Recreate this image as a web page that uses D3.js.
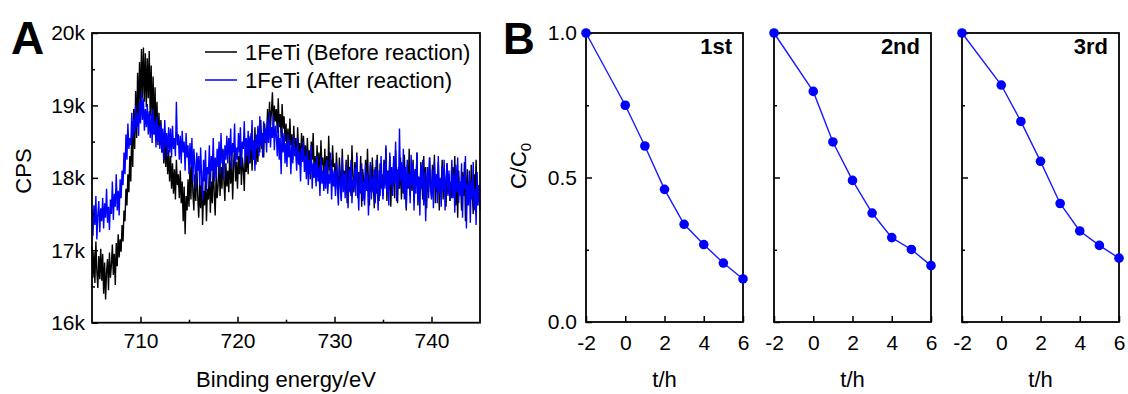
<!DOCTYPE html>
<html>
<head>
<meta charset="utf-8">
<script src="https://cdn.jsdelivr.net/npm/d3@7"></script>
<style>
  body { margin: 0; background: #fff; }
  svg { display: block; font-family: "Liberation Sans", Arial, sans-serif; }
  .tick line { stroke: #000; stroke-width: 1.5; }
</style>
</head>
<body>
<svg id="chart" width="1128" height="394"></svg>
<script>
// ---- panel A data: XPS Fe 2p spectra (CPS, in k), 705-745 eV, step 0.1 eV
const energyStart = 705;
const energyStep = 0.1;
const cpsBefore = [
  17.05,16.62,16.98,16.55,17.12,16.71,16.48,16.92,16.60,17.02,
  16.58,16.95,16.40,16.83,16.32,16.70,16.88,16.45,16.97,16.62,
  16.80,17.08,16.66,16.95,16.52,17.10,16.78,17.22,16.90,17.15,
  16.98,17.35,17.12,17.55,17.40,17.85,17.62,18.05,17.80,18.30,
  17.95,18.70,18.15,18.95,18.40,19.20,18.55,19.45,18.85,19.60,
  19.00,19.78,19.10,19.80,19.05,19.72,18.98,19.65,19.10,19.75,
  18.85,19.55,18.70,19.40,18.60,19.25,18.55,19.05,18.45,18.90,
  18.45,18.80,18.35,18.62,18.20,18.55,18.15,18.48,18.05,18.38,
  17.95,18.30,17.85,18.20,17.78,18.12,17.70,18.25,17.90,18.05,
  17.72,18.10,17.65,17.95,17.40,17.88,17.22,17.75,17.55,17.98,
  17.60,18.15,17.70,18.35,17.80,17.55,18.05,17.68,18.20,17.75,
  17.45,17.90,17.58,18.10,17.35,17.82,17.62,18.00,17.40,17.85,
  17.70,18.15,17.52,17.95,17.65,18.25,17.78,17.48,18.05,17.72,
  17.90,18.30,17.75,18.15,17.85,18.40,17.95,17.68,18.20,17.88,
  18.10,17.80,18.35,17.92,18.25,17.70,18.18,18.45,17.95,18.22,
  17.85,18.30,18.05,18.50,17.90,18.28,18.12,17.82,18.40,18.08,
  18.35,18.05,18.55,18.20,18.62,18.10,18.45,18.25,18.70,18.18,
  18.50,18.22,18.68,18.35,18.80,18.40,18.62,18.28,18.75,18.48,
  18.60,18.95,18.55,19.05,18.70,18.92,19.18,18.65,19.00,18.78,
  18.95,18.62,19.10,18.70,18.88,18.55,19.02,18.68,18.85,18.50,
  18.75,18.40,18.68,18.30,18.82,18.45,18.60,18.25,18.72,18.38,
  18.55,18.20,18.70,18.35,18.48,18.15,18.62,18.30,18.58,18.22,
  18.45,18.10,18.55,18.20,18.38,17.98,18.50,18.25,18.62,18.08,
  18.30,17.95,18.45,18.12,18.35,17.90,18.52,18.18,18.28,17.85,
  18.40,18.05,18.30,17.88,18.58,18.10,18.25,17.92,18.45,18.15,
  18.20,17.85,18.35,18.00,17.78,18.28,18.05,17.70,18.40,17.95,
  18.10,17.82,18.25,17.65,18.32,17.95,18.15,17.75,18.45,18.02,
  17.80,18.22,17.90,18.35,17.72,18.08,17.88,18.30,17.60,18.12,
  17.98,17.70,18.25,17.85,18.40,17.92,17.62,18.18,17.80,18.28,
  17.95,17.58,18.15,17.78,18.32,17.90,17.68,18.20,17.85,18.05,
  17.75,18.25,17.90,18.42,17.68,18.10,17.82,18.30,17.60,18.02,
  17.88,18.20,17.72,18.38,17.95,17.65,18.15,17.85,18.28,17.70,
  18.05,17.78,18.32,17.92,17.55,18.18,17.85,18.40,17.75,18.08,
  17.82,18.25,17.68,18.12,17.90,18.35,17.62,18.00,17.78,18.22,
  17.95,17.70,18.30,17.85,18.15,17.58,18.05,17.80,18.28,17.92,
  17.75,18.18,17.88,18.32,17.65,18.05,17.80,18.22,17.55,17.98,
  17.85,18.25,17.70,18.10,17.92,17.60,18.20,17.78,18.05,17.68,
  17.95,17.72,18.15,17.85,18.30,17.62,17.98,17.45,18.10,17.80,
  17.92,17.55,18.08,17.75,18.22,17.40,17.88,18.12,17.65,17.95,
  17.70,18.18,17.82,17.50,18.05,17.75,18.25,17.62,17.90,17.78,
  17.85
];
const cpsAfter = [
  17.55,17.20,17.62,17.35,17.75,17.15,17.48,17.68,17.25,17.58,
  17.40,17.72,17.30,17.65,17.45,17.85,17.38,17.60,17.28,17.70,
  17.50,17.95,17.42,17.78,17.60,18.05,17.55,17.82,17.48,17.98,
  17.72,18.10,17.90,18.35,18.05,18.60,18.25,18.75,18.40,18.55,
  18.45,18.90,18.55,18.80,18.62,19.00,18.70,18.88,18.58,19.05,
  18.75,19.18,18.80,19.10,18.65,18.95,18.70,19.02,18.60,18.92,
  18.55,18.88,18.48,18.95,18.60,18.78,18.42,18.85,18.50,18.72,
  18.40,18.75,18.35,18.68,18.25,18.80,18.45,18.62,18.30,18.70,
  18.35,18.68,18.28,18.72,18.40,18.55,18.30,19.05,18.45,18.60,
  18.25,18.58,18.20,18.65,18.35,18.50,18.10,18.62,18.28,18.45,
  18.05,18.48,18.15,18.55,17.95,18.40,18.20,17.85,18.35,18.10,
  18.30,17.90,18.42,18.00,17.70,18.25,17.95,18.38,17.82,18.15,
  18.05,18.45,17.88,18.30,18.10,18.55,17.95,18.28,18.00,18.40,
  18.15,18.50,18.05,18.62,18.20,18.38,17.98,18.45,18.25,18.58,
  18.20,18.55,18.30,18.68,18.12,18.48,18.35,18.75,18.18,18.42,
  18.25,18.62,18.35,18.70,18.15,18.50,18.40,18.78,18.22,18.55,
  18.30,18.65,18.20,18.58,18.38,18.80,18.25,18.52,18.10,18.60,
  18.40,18.72,18.30,18.85,18.45,18.62,18.28,18.78,18.50,18.68,
  18.35,18.80,18.48,18.90,18.42,18.70,18.55,18.85,18.38,18.72,
  18.60,18.30,18.75,18.25,18.55,18.05,18.68,18.35,18.62,18.20,
  18.48,18.15,18.60,18.28,18.52,18.05,18.45,18.20,18.58,18.30,
  18.40,18.10,18.55,18.18,18.35,17.95,18.42,18.22,18.50,18.08,
  18.30,17.98,18.38,17.90,18.25,18.05,18.45,17.85,18.20,18.00,
  18.22,17.88,18.30,17.95,18.15,17.75,18.28,17.92,18.10,17.82,
  18.18,17.85,18.25,17.78,18.05,17.92,18.35,17.70,18.12,17.88,
  18.10,17.75,18.22,17.85,17.62,18.15,17.90,17.68,18.28,17.80,
  18.05,17.72,18.18,17.92,17.58,18.12,17.80,18.25,17.65,17.98,
  17.85,18.15,17.75,18.30,17.90,17.55,18.08,17.78,18.20,17.68,
  17.95,17.62,18.18,17.82,18.05,17.48,17.90,18.22,17.70,18.00,
  17.80,18.12,17.65,18.25,17.88,17.55,18.10,17.75,18.30,17.92,
  17.70,18.20,17.85,18.45,17.78,18.08,17.62,18.35,17.90,18.15,
  17.75,18.30,17.92,18.50,17.68,18.12,17.85,18.68,17.95,18.22,
  17.82,18.40,17.70,18.15,17.58,18.25,17.88,18.05,17.65,18.32,
  17.90,18.20,17.55,18.10,17.78,18.35,17.68,18.02,17.48,18.18,
  17.85,18.25,17.62,18.08,17.40,17.95,18.15,17.72,18.28,17.88,
  17.70,18.12,17.58,18.22,17.85,18.05,17.65,18.30,17.78,18.00,
  17.60,18.15,17.82,18.25,17.55,17.98,18.20,17.75,18.10,17.68,
  17.88,18.25,17.72,18.05,17.52,18.18,17.80,18.28,17.65,17.95,
  17.75,18.20,17.45,18.02,17.85,18.30,17.30,17.92,17.62,18.10,
  17.38,17.95,17.70,18.22,17.55,17.85,17.35,18.08,17.62,17.90,
  17.55
];
const legendLabels = ["1FeTi (Before reaction)", "1FeTi (After reaction)"];
const cpsTicks = [16, 17, 18, 19, 20];
const cpsMinor = [16.5, 17.5, 18.5, 19.5];
const energyTicks = [710, 720, 730, 740];
const energyMinor = [715, 725, 735];

// ---- panel B data: C/C0 vs time for three cycles
const hours = [-2, 0, 1, 2, 3, 4, 5, 6];
const run1 = [1.0, 0.750, 0.609, 0.459, 0.338, 0.268, 0.204, 0.149];
const run2 = [1.0, 0.798, 0.623, 0.490, 0.377, 0.292, 0.251, 0.195];
const run3 = [1.0, 0.820, 0.694, 0.556, 0.410, 0.315, 0.265, 0.221];
const runLabels = ["1st", "2nd", "3rd"];
const ratioTicks = [0, 0.5, 1.0];
const ratioMinor = [0.25, 0.75];
const hourTicks = [-2, 0, 2, 4, 6];

const svg = d3.select("#chart");

// ================= Panel A =================
const a = { left: 92, right: 480, top: 33, bottom: 322.7 };
const xA = d3.scaleLinear().domain([705, 745]).range([a.left, a.right]);
const yA = d3.scaleLinear().domain([16, 20]).range([a.bottom, a.top]);

const gA = svg.append("g");

const toPoints = vals => vals.map((v, i) => ({ e: energyStart + i * energyStep, v: v }));
const lineA = d3.line().x(d => xA(d.e)).y(d => yA(d.v));

gA.append("path")
  .attr("d", lineA(toPoints(cpsBefore)))
  .attr("fill", "none").attr("stroke", "#000").attr("stroke-width", 1.4);
gA.append("path")
  .attr("d", lineA(toPoints(cpsAfter)))
  .attr("fill", "none").attr("stroke", "#0000ff").attr("stroke-width", 1.4);

// axes (ticks inward)
gA.append("g").attr("transform", `translate(0,${a.bottom})`)
  .call(d3.axisBottom(xA).tickValues(energyTicks).tickSize(-6).tickPadding(10));
gA.append("g").attr("transform", `translate(0,${a.bottom})`)
  .call(d3.axisBottom(xA).tickValues(energyMinor).tickSize(-3).tickFormat(""));
gA.append("g").attr("transform", `translate(${a.left},0)`)
  .call(d3.axisLeft(yA).tickValues(cpsTicks).tickSize(-6).tickPadding(7).tickFormat(d => d + "k"));
gA.append("g").attr("transform", `translate(${a.left},0)`)
  .call(d3.axisLeft(yA).tickValues(cpsMinor).tickSize(-3).tickFormat(""));
gA.selectAll(".domain").remove();
gA.selectAll(".tick text").attr("font-size", 21).attr("fill", "#000")
  .attr("font-family", "Liberation Sans, Arial, sans-serif");

gA.append("rect")
  .attr("x", a.left).attr("y", a.top)
  .attr("width", a.right - a.left).attr("height", a.bottom - a.top)
  .attr("fill", "none").attr("stroke", "#000").attr("stroke-width", 1.8);

// legend
const legColors = ["#000", "#0000ff"];
legendLabels.forEach((lab, i) => {
  const ly = 52 + i * 28;
  gA.append("line").attr("x1", 205).attr("x2", 237).attr("y1", ly).attr("y2", ly)
    .attr("stroke", legColors[i]).attr("stroke-width", 1.5);
  gA.append("text").attr("x", 245).attr("y", ly + 7.5)
    .attr("font-size", 22).text(lab);
});

// axis titles
gA.append("text").attr("x", (a.left + a.right) / 2).attr("y", 387)
  .attr("text-anchor", "middle").attr("font-size", 22).text("Binding energy/eV");
gA.append("g").attr("transform", "translate(31,171) rotate(-90)")
  .append("text").attr("text-anchor", "middle").attr("font-size", 22).text("CPS");
gA.append("text").attr("x", 11).attr("y", 54)
  .attr("font-size", 46).attr("font-weight", "bold").text("A");

// ================= Panel B =================
const b = { top: 33, bottom: 322, width: 157, gap: 31, left0: 586 };
const yB = d3.scaleLinear().domain([0, 1]).range([b.bottom, b.top]);
const runs = [run1, run2, run3];

runs.forEach((vals, k) => {
  const left = b.left0 + k * (b.width + b.gap);
  const xB = d3.scaleLinear().domain([-2, 6]).range([left, left + b.width]);
  const g = svg.append("g");

  g.append("g").attr("transform", `translate(0,${b.bottom})`)
    .call(d3.axisBottom(xB).tickValues(hourTicks).tickSize(-6).tickPadding(13)
      .tickFormat(d => String(d)));
  const yAxis = d3.axisLeft(yB).tickValues(ratioTicks).tickSize(-6).tickPadding(9)
    .tickFormat(k === 0 ? d3.format(".1f") : () => "");
  g.append("g").attr("transform", `translate(${left},0)`).call(yAxis);
  g.append("g").attr("transform", `translate(${left},0)`)
    .call(d3.axisLeft(yB).tickValues(ratioMinor).tickSize(-3).tickFormat(""));
  g.selectAll(".domain").remove();
  g.selectAll(".tick text").attr("font-size", 21).attr("fill", "#000")
    .attr("font-family", "Liberation Sans, Arial, sans-serif");

  g.append("rect")
    .attr("x", left).attr("y", b.top)
    .attr("width", b.width).attr("height", b.bottom - b.top)
    .attr("fill", "none").attr("stroke", "#000").attr("stroke-width", 1.8);

  const pts = hours.map((h, i) => ({ h: h, v: vals[i] }));
  g.append("path")
    .attr("d", d3.line().x(d => xB(d.h)).y(d => yB(d.v))(pts))
    .attr("fill", "none").attr("stroke", "#1a1aff").attr("stroke-width", 1.4);
  g.selectAll("circle").data(pts).enter().append("circle")
    .attr("cx", d => xB(d.h)).attr("cy", d => yB(d.v)).attr("r", 4.8)
    .attr("fill", "#0000ff");

  g.append("text").attr("x", left + b.width - 11).attr("y", 54)
    .attr("text-anchor", "end").attr("font-size", 22).attr("font-weight", "bold")
    .text(runLabels[k]);
  g.append("text").attr("x", left + b.width / 2).attr("y", 387)
    .attr("text-anchor", "middle").attr("font-size", 22).text("t/h");
});

// C/C0 title
const cTitle = svg.append("g").attr("transform", "translate(526,166) rotate(-90)")
  .append("text").attr("text-anchor", "middle").attr("font-size", 22);
cTitle.append("tspan").text("C/C");
cTitle.append("tspan").attr("font-size", 15).attr("dy", 5).text("0");
svg.append("text").attr("x", 503).attr("y", 54)
  .attr("font-size", 44).attr("font-weight", "bold").text("B");
</script>
</body>
</html>
